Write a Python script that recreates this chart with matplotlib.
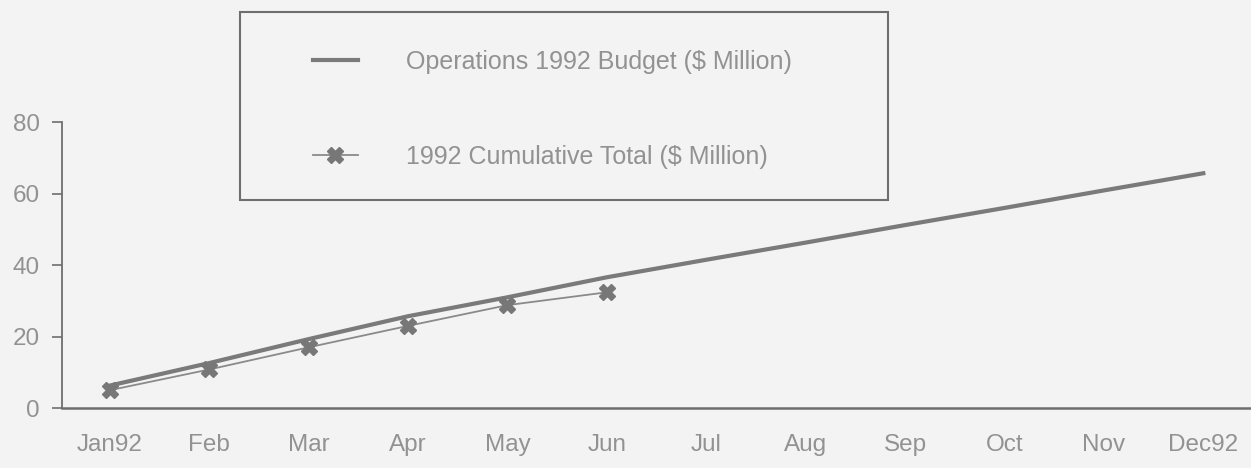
import matplotlib
matplotlib.use("Agg")
import matplotlib.pyplot as plt
from matplotlib.patches import Rectangle

months = ["Jan92", "Feb", "Mar", "Apr", "May", "Jun", "Jul", "Aug", "Sep", "Oct", "Nov", "Dec92"]
budget = [6.3, 12.6, 19.3, 25.7, 31.0, 36.6, 41.5, 46.3, 51.2, 56.0, 60.9, 65.7]
cumulative = [5.0, 10.8, 17.0, 23.0, 28.8, 32.4]
yticks = [0, 20, 40, 60, 80]

plt.rcParams["font.family"] = ["Liberation Sans", "DejaVu Sans"]
bg = "#f3f3f3"
ink = "#6e6e6e"
txt = "#929292"

fig = plt.figure(figsize=(12.51, 4.68), dpi=100, facecolor=bg)
ax = fig.add_axes([0.0496, 0.128, 0.952, 0.611], facecolor=bg)

x = list(range(len(months)))
ax.plot(x, budget, color="#7a7a7a", lw=3, label="Operations 1992 Budget ($ Million)")
ax.plot(x[:len(cumulative)], cumulative, color="#8a8a8a", lw=1.3, marker="X",
        markersize=11, markerfacecolor="#777777", markeredgecolor="#777777",
        label="1992 Cumulative Total ($ Million)")

ax.set_xlim(-0.48, 11.5)
ax.set_ylim(0, 80)
ax.set_xticks(x)
ax.set_xticklabels(months)
ax.set_yticks(yticks)
ax.tick_params(axis="x", length=0, pad=19, labelsize=17.5, colors=txt)
ax.tick_params(axis="y", length=7, width=1.2, color=ink, pad=9, labelsize=17.5, labelcolor=txt)
for s in ["top", "right"]:
    ax.spines[s].set_visible(False)
ax.spines["left"].set_color(ink)
ax.spines["bottom"].set_color(ink)
ax.spines["left"].set_linewidth(1.3)
ax.spines["bottom"].set_linewidth(1.8)

# legend box
fig.patches.append(Rectangle((240 / 1251, 1 - 200 / 468), 648 / 1251, 188 / 468,
                             transform=fig.transFigure, fill=False, edgecolor=ink, lw=1.5))
leg = ax.legend(loc="center left", bbox_to_anchor=(290 / 1251, 1 - 109.5 / 468),
                bbox_transform=fig.transFigure, frameon=False, fontsize=18,
                labelspacing=2.85, handlelength=1.8, handletextpad=1.95, labelcolor=txt)

fig.savefig("out.png", dpi=100, facecolor=bg)
